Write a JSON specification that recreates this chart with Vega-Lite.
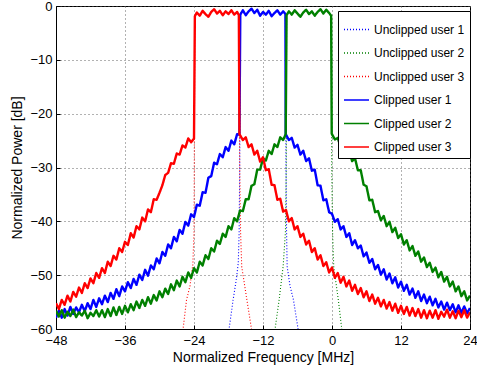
{
  "$schema": "https://vega.github.io/schema/vega-lite/v6.json",
  "width": 414,
  "height": 323,
  "autosize": "none",
  "padding": {"left": 56, "top": 6, "right": 7, "bottom": 38},
  "background": "white",
  "view": {"stroke": "black", "strokeWidth": 1},
  "config": {
    "font": "Liberation Sans",
    "axis": {
      "labelFont": "Liberation Sans", "labelFontSize": 13, "labelColor": "black",
      "titleFont": "Liberation Sans", "titleFontSize": 14, "titleFontWeight": "normal", "titleColor": "black",
      "domainColor": "black", "tickColor": "black", "tickSize": -4, "labelPadding": 8,
      "gridColor": "#555", "gridDash": [1, 3], "gridOpacity": 0.9, "gridWidth": 1,
      "labelFlush": false, "labelOverlap": false
    },
    "legend": {
      "labelFont": "Liberation Sans", "labelFontSize": 12, "labelColor": "black"
    }
  },
  "data": {"values": [
    {"s":"Unclipped user 1","x":-18.5,"y":-63},{"s":"Unclipped user 1","x":-17.9,"y":-60},{"s":"Unclipped user 1","x":-17.2,"y":-54.6},{"s":"Unclipped user 1","x":-16.6,"y":-50.5},{"s":"Unclipped user 1","x":-16.3,"y":-47.7},{"s":"Unclipped user 1","x":-16.15,"y":-42},{"s":"Unclipped user 1","x":-16.05,"y":-30},{"s":"Unclipped user 1","x":-15.95,"y":-1.6},
    {"s":"Unclipped user 1","x":-15.5,"y":-0.8},{"s":"Unclipped user 1","x":-15,"y":-1.7},{"s":"Unclipped user 1","x":-14.5,"y":-1.0},{"s":"Unclipped user 1","x":-14,"y":-0.5},{"s":"Unclipped user 1","x":-13.5,"y":-1.3},{"s":"Unclipped user 1","x":-13,"y":-0.7},{"s":"Unclipped user 1","x":-12.5,"y":-1.8},{"s":"Unclipped user 1","x":-12,"y":-1.1},{"s":"Unclipped user 1","x":-11.5,"y":-1.6},{"s":"Unclipped user 1","x":-11,"y":-0.9},{"s":"Unclipped user 1","x":-10.5,"y":-1.9},{"s":"Unclipped user 1","x":-10,"y":-1.3},{"s":"Unclipped user 1","x":-9.5,"y":-0.8},{"s":"Unclipped user 1","x":-9,"y":-1.6},{"s":"Unclipped user 1","x":-8.5,"y":-1.0},{"s":"Unclipped user 1","x":-8.1,"y":-1.5},
    {"s":"Unclipped user 1","x":-8.0,"y":-30},{"s":"Unclipped user 1","x":-7.9,"y":-42},{"s":"Unclipped user 1","x":-7.8,"y":-48.4},{"s":"Unclipped user 1","x":-7.3,"y":-52},{"s":"Unclipped user 1","x":-6.7,"y":-54.6},{"s":"Unclipped user 1","x":-5.9,"y":-60},{"s":"Unclipped user 1","x":-5.3,"y":-63},

    {"s":"Unclipped user 2","x":-10.6,"y":-63},{"s":"Unclipped user 2","x":-9.9,"y":-60},{"s":"Unclipped user 2","x":-9.2,"y":-54.6},{"s":"Unclipped user 2","x":-8.5,"y":-48.4},{"s":"Unclipped user 2","x":-8.1,"y":-42},{"s":"Unclipped user 2","x":-7.95,"y":-30},{"s":"Unclipped user 2","x":-7.9,"y":-1.7},
    {"s":"Unclipped user 2","x":-7.5,"y":-1.0},{"s":"Unclipped user 2","x":-7,"y":-1.6},{"s":"Unclipped user 2","x":-6.5,"y":-0.8},{"s":"Unclipped user 2","x":-6,"y":-1.4},{"s":"Unclipped user 2","x":-5.5,"y":-2.0},{"s":"Unclipped user 2","x":-5,"y":-1.2},{"s":"Unclipped user 2","x":-4.5,"y":-0.7},{"s":"Unclipped user 2","x":-4,"y":-1.5},{"s":"Unclipped user 2","x":-3.5,"y":-1.0},{"s":"Unclipped user 2","x":-3,"y":-1.8},{"s":"Unclipped user 2","x":-2.5,"y":-1.1},{"s":"Unclipped user 2","x":-2,"y":-0.6},{"s":"Unclipped user 2","x":-1.5,"y":-1.4},{"s":"Unclipped user 2","x":-1,"y":-0.7},{"s":"Unclipped user 2","x":-0.5,"y":-1.3},{"s":"Unclipped user 2","x":-0.15,"y":-1.8},
    {"s":"Unclipped user 2","x":-0.05,"y":-30},{"s":"Unclipped user 2","x":0.1,"y":-42},{"s":"Unclipped user 2","x":0.3,"y":-48.4},{"s":"Unclipped user 2","x":1.1,"y":-54.6},{"s":"Unclipped user 2","x":1.7,"y":-60},{"s":"Unclipped user 2","x":2.3,"y":-63},

    {"s":"Unclipped user 3","x":-26.6,"y":-63},{"s":"Unclipped user 3","x":-25.9,"y":-60},{"s":"Unclipped user 3","x":-25.3,"y":-54.6},{"s":"Unclipped user 3","x":-24.7,"y":-52},{"s":"Unclipped user 3","x":-24.2,"y":-48},{"s":"Unclipped user 3","x":-24.0,"y":-42},{"s":"Unclipped user 3","x":-23.95,"y":-30},{"s":"Unclipped user 3","x":-23.85,"y":-1.9},
    {"s":"Unclipped user 3","x":-23.5,"y":-1.2},{"s":"Unclipped user 3","x":-23,"y":-1.8},{"s":"Unclipped user 3","x":-22.5,"y":-0.9},{"s":"Unclipped user 3","x":-22,"y":-1.5},{"s":"Unclipped user 3","x":-21.5,"y":-2.0},{"s":"Unclipped user 3","x":-21,"y":-1.1},{"s":"Unclipped user 3","x":-20.5,"y":-0.6},{"s":"Unclipped user 3","x":-20,"y":-1.4},{"s":"Unclipped user 3","x":-19.5,"y":-0.9},{"s":"Unclipped user 3","x":-19,"y":-1.7},{"s":"Unclipped user 3","x":-18.5,"y":-1.0},{"s":"Unclipped user 3","x":-18,"y":-1.5},{"s":"Unclipped user 3","x":-17.5,"y":-0.8},{"s":"Unclipped user 3","x":-17,"y":-1.6},{"s":"Unclipped user 3","x":-16.5,"y":-1.1},{"s":"Unclipped user 3","x":-16.2,"y":-1.7},
    {"s":"Unclipped user 3","x":-16.05,"y":-30},{"s":"Unclipped user 3","x":-15.9,"y":-42},{"s":"Unclipped user 3","x":-15.7,"y":-48.4},{"s":"Unclipped user 3","x":-14.8,"y":-54.6},{"s":"Unclipped user 3","x":-14.0,"y":-60},{"s":"Unclipped user 3","x":-13.4,"y":-63},

    {"s":"Clipped user 1","x":-48,"y":-57.9},{"s":"Clipped user 1","x":-47.5,"y":-56.6},{"s":"Clipped user 1","x":-47,"y":-57.9},{"s":"Clipped user 1","x":-46.5,"y":-56.3},{"s":"Clipped user 1","x":-46,"y":-57.5},{"s":"Clipped user 1","x":-45.5,"y":-55.9},{"s":"Clipped user 1","x":-45,"y":-57.2},{"s":"Clipped user 1","x":-44.5,"y":-56.0},{"s":"Clipped user 1","x":-44,"y":-56.9},{"s":"Clipped user 1","x":-43.5,"y":-55.5},
    {"s":"Clipped user 1","x":-43,"y":-56.7},{"s":"Clipped user 1","x":-42.5,"y":-55.2},{"s":"Clipped user 1","x":-42,"y":-56.3},{"s":"Clipped user 1","x":-41.5,"y":-54.6},{"s":"Clipped user 1","x":-41,"y":-55.9},{"s":"Clipped user 1","x":-40.5,"y":-54.3},{"s":"Clipped user 1","x":-40,"y":-55.4},{"s":"Clipped user 1","x":-39.5,"y":-53.8},{"s":"Clipped user 1","x":-39,"y":-55.0},{"s":"Clipped user 1","x":-38.5,"y":-53.3},
    {"s":"Clipped user 1","x":-38,"y":-54.4},{"s":"Clipped user 1","x":-37.5,"y":-52.6},{"s":"Clipped user 1","x":-37,"y":-53.9},{"s":"Clipped user 1","x":-36.5,"y":-52.1},{"s":"Clipped user 1","x":-36,"y":-53.0},{"s":"Clipped user 1","x":-35.5,"y":-51.3},{"s":"Clipped user 1","x":-35,"y":-52.4},{"s":"Clipped user 1","x":-34.5,"y":-50.7},{"s":"Clipped user 1","x":-34,"y":-51.8},{"s":"Clipped user 1","x":-33.5,"y":-49.9},
    {"s":"Clipped user 1","x":-33,"y":-50.9},{"s":"Clipped user 1","x":-32.5,"y":-49.0},{"s":"Clipped user 1","x":-32,"y":-50.1},{"s":"Clipped user 1","x":-31.5,"y":-48.2},{"s":"Clipped user 1","x":-31,"y":-48.9},{"s":"Clipped user 1","x":-30.5,"y":-46.9},{"s":"Clipped user 1","x":-30,"y":-47.8},{"s":"Clipped user 1","x":-29.5,"y":-45.7},{"s":"Clipped user 1","x":-29,"y":-46.4},{"s":"Clipped user 1","x":-28.5,"y":-44.3},
    {"s":"Clipped user 1","x":-28,"y":-45.0},{"s":"Clipped user 1","x":-27.5,"y":-42.9},{"s":"Clipped user 1","x":-27,"y":-43.7},{"s":"Clipped user 1","x":-26.5,"y":-41.6},{"s":"Clipped user 1","x":-26,"y":-42.3},{"s":"Clipped user 1","x":-25.5,"y":-40.1},{"s":"Clipped user 1","x":-25,"y":-40.8},{"s":"Clipped user 1","x":-24.5,"y":-38.7},{"s":"Clipped user 1","x":-24,"y":-39.2},{"s":"Clipped user 1","x":-23.5,"y":-36.9},
    {"s":"Clipped user 1","x":-23,"y":-37.1},{"s":"Clipped user 1","x":-22.5,"y":-34.6},{"s":"Clipped user 1","x":-22,"y":-34.7},{"s":"Clipped user 1","x":-21.5,"y":-31.9},{"s":"Clipped user 1","x":-21,"y":-31.6},{"s":"Clipped user 1","x":-20.5,"y":-29.1},{"s":"Clipped user 1","x":-20,"y":-29.4},{"s":"Clipped user 1","x":-19.5,"y":-27.5},{"s":"Clipped user 1","x":-19,"y":-28.1},{"s":"Clipped user 1","x":-18.5,"y":-26.2},
    {"s":"Clipped user 1","x":-18,"y":-26.9},{"s":"Clipped user 1","x":-17.5,"y":-25.0},{"s":"Clipped user 1","x":-17,"y":-25.7},{"s":"Clipped user 1","x":-16.5,"y":-23.8},{"s":"Clipped user 1","x":-16.1,"y":-23.9},{"s":"Clipped user 1","x":-15.95,"y":-1.6},
    {"s":"Clipped user 1","x":-15.5,"y":-0.8},{"s":"Clipped user 1","x":-15,"y":-1.7},{"s":"Clipped user 1","x":-14.5,"y":-1.0},{"s":"Clipped user 1","x":-14,"y":-0.5},{"s":"Clipped user 1","x":-13.5,"y":-1.3},{"s":"Clipped user 1","x":-13,"y":-0.7},{"s":"Clipped user 1","x":-12.5,"y":-1.8},{"s":"Clipped user 1","x":-12,"y":-1.1},{"s":"Clipped user 1","x":-11.5,"y":-1.6},{"s":"Clipped user 1","x":-11,"y":-0.9},{"s":"Clipped user 1","x":-10.5,"y":-1.9},{"s":"Clipped user 1","x":-10,"y":-1.3},{"s":"Clipped user 1","x":-9.5,"y":-0.8},{"s":"Clipped user 1","x":-9,"y":-1.6},{"s":"Clipped user 1","x":-8.5,"y":-1.0},{"s":"Clipped user 1","x":-8.1,"y":-1.5},
    {"s":"Clipped user 1","x":-8.05,"y":-23.8},{"s":"Clipped user 1","x":-7.5,"y":-24.9},{"s":"Clipped user 1","x":-7,"y":-24.5},{"s":"Clipped user 1","x":-6.5,"y":-26.3},{"s":"Clipped user 1","x":-6,"y":-25.8},{"s":"Clipped user 1","x":-5.5,"y":-27.6},{"s":"Clipped user 1","x":-5,"y":-26.9},{"s":"Clipped user 1","x":-4.5,"y":-28.8},{"s":"Clipped user 1","x":-4,"y":-28.3},{"s":"Clipped user 1","x":-3.5,"y":-30.6},
    {"s":"Clipped user 1","x":-3,"y":-30.4},{"s":"Clipped user 1","x":-2.5,"y":-33.3},{"s":"Clipped user 1","x":-2,"y":-33.4},{"s":"Clipped user 1","x":-1.5,"y":-36.1},{"s":"Clipped user 1","x":-1,"y":-35.9},{"s":"Clipped user 1","x":-0.5,"y":-38.3},{"s":"Clipped user 1","x":0,"y":-38.6},{"s":"Clipped user 1","x":0.5,"y":-40.1},{"s":"Clipped user 1","x":1,"y":-39.6},{"s":"Clipped user 1","x":1.5,"y":-41.5},
    {"s":"Clipped user 1","x":2,"y":-40.9},{"s":"Clipped user 1","x":2.5,"y":-42.9},{"s":"Clipped user 1","x":3,"y":-42.2},{"s":"Clipped user 1","x":3.5,"y":-44.4},{"s":"Clipped user 1","x":4,"y":-43.5},{"s":"Clipped user 1","x":4.5,"y":-45.0},{"s":"Clipped user 1","x":5,"y":-44.5},{"s":"Clipped user 1","x":5.5,"y":-46.5},{"s":"Clipped user 1","x":6,"y":-45.8},{"s":"Clipped user 1","x":6.5,"y":-47.7},
    {"s":"Clipped user 1","x":7,"y":-47.0},{"s":"Clipped user 1","x":7.5,"y":-48.9},{"s":"Clipped user 1","x":8,"y":-48.1},{"s":"Clipped user 1","x":8.5,"y":-49.9},{"s":"Clipped user 1","x":9,"y":-48.9},{"s":"Clipped user 1","x":9.5,"y":-50.8},{"s":"Clipped user 1","x":10,"y":-49.7},{"s":"Clipped user 1","x":10.5,"y":-51.5},{"s":"Clipped user 1","x":11,"y":-50.4},{"s":"Clipped user 1","x":11.5,"y":-52.3},
    {"s":"Clipped user 1","x":12,"y":-51.2},{"s":"Clipped user 1","x":12.5,"y":-52.9},{"s":"Clipped user 1","x":13,"y":-51.8},{"s":"Clipped user 1","x":13.5,"y":-53.6},{"s":"Clipped user 1","x":14,"y":-52.5},{"s":"Clipped user 1","x":14.5,"y":-54.2},{"s":"Clipped user 1","x":15,"y":-53.0},{"s":"Clipped user 1","x":15.5,"y":-54.8},{"s":"Clipped user 1","x":16,"y":-53.6},{"s":"Clipped user 1","x":16.5,"y":-55.2},
    {"s":"Clipped user 1","x":17,"y":-54.0},{"s":"Clipped user 1","x":17.5,"y":-55.6},{"s":"Clipped user 1","x":18,"y":-54.4},{"s":"Clipped user 1","x":18.5,"y":-56.0},{"s":"Clipped user 1","x":19,"y":-54.9},{"s":"Clipped user 1","x":19.5,"y":-56.4},{"s":"Clipped user 1","x":20,"y":-55.1},{"s":"Clipped user 1","x":20.5,"y":-56.5},{"s":"Clipped user 1","x":21,"y":-55.4},{"s":"Clipped user 1","x":21.5,"y":-56.9},
    {"s":"Clipped user 1","x":22,"y":-55.6},{"s":"Clipped user 1","x":22.5,"y":-57.0},{"s":"Clipped user 1","x":23,"y":-55.8},{"s":"Clipped user 1","x":23.5,"y":-57.1},{"s":"Clipped user 1","x":24,"y":-56.1},

    {"s":"Clipped user 2","x":-48,"y":-56.6},{"s":"Clipped user 2","x":-47.5,"y":-57.7},{"s":"Clipped user 2","x":-47,"y":-56.5},{"s":"Clipped user 2","x":-46.5,"y":-57.9},{"s":"Clipped user 2","x":-46,"y":-56.8},{"s":"Clipped user 2","x":-45.5,"y":-57.6},{"s":"Clipped user 2","x":-45,"y":-56.4},{"s":"Clipped user 2","x":-44.5,"y":-57.8},{"s":"Clipped user 2","x":-44,"y":-56.9},{"s":"Clipped user 2","x":-43.5,"y":-57.5},
    {"s":"Clipped user 2","x":-43,"y":-56.6},{"s":"Clipped user 2","x":-42.5,"y":-58.0},{"s":"Clipped user 2","x":-42,"y":-57.0},{"s":"Clipped user 2","x":-41.5,"y":-57.6},{"s":"Clipped user 2","x":-41,"y":-56.5},{"s":"Clipped user 2","x":-40.5,"y":-57.7},{"s":"Clipped user 2","x":-40,"y":-56.5},{"s":"Clipped user 2","x":-39.5,"y":-57.8},{"s":"Clipped user 2","x":-39,"y":-56.3},{"s":"Clipped user 2","x":-38.5,"y":-57.6},
    {"s":"Clipped user 2","x":-38,"y":-56.0},{"s":"Clipped user 2","x":-37.5,"y":-57.4},{"s":"Clipped user 2","x":-37,"y":-55.9},{"s":"Clipped user 2","x":-36.5,"y":-57.2},{"s":"Clipped user 2","x":-36,"y":-55.7},{"s":"Clipped user 2","x":-35.5,"y":-56.9},{"s":"Clipped user 2","x":-35,"y":-55.4},{"s":"Clipped user 2","x":-34.5,"y":-56.5},{"s":"Clipped user 2","x":-34,"y":-54.9},{"s":"Clipped user 2","x":-33.5,"y":-56.1},
    {"s":"Clipped user 2","x":-33,"y":-54.6},{"s":"Clipped user 2","x":-32.5,"y":-55.7},{"s":"Clipped user 2","x":-32,"y":-54.1},{"s":"Clipped user 2","x":-31.5,"y":-55.3},{"s":"Clipped user 2","x":-31,"y":-53.7},{"s":"Clipped user 2","x":-30.5,"y":-54.7},{"s":"Clipped user 2","x":-30,"y":-53.0},{"s":"Clipped user 2","x":-29.5,"y":-54.1},{"s":"Clipped user 2","x":-29,"y":-52.5},{"s":"Clipped user 2","x":-28.5,"y":-53.5},
    {"s":"Clipped user 2","x":-28,"y":-51.7},{"s":"Clipped user 2","x":-27.5,"y":-52.8},{"s":"Clipped user 2","x":-27,"y":-51.0},{"s":"Clipped user 2","x":-26.5,"y":-52.1},{"s":"Clipped user 2","x":-26,"y":-50.3},{"s":"Clipped user 2","x":-25.5,"y":-51.3},{"s":"Clipped user 2","x":-25,"y":-49.5},{"s":"Clipped user 2","x":-24.5,"y":-50.5},{"s":"Clipped user 2","x":-24,"y":-48.7},{"s":"Clipped user 2","x":-23.5,"y":-49.5},
    {"s":"Clipped user 2","x":-23,"y":-47.5},{"s":"Clipped user 2","x":-22.5,"y":-48.2},{"s":"Clipped user 2","x":-22,"y":-46.3},{"s":"Clipped user 2","x":-21.5,"y":-47.0},{"s":"Clipped user 2","x":-21,"y":-45.0},{"s":"Clipped user 2","x":-20.5,"y":-45.6},{"s":"Clipped user 2","x":-20,"y":-43.6},{"s":"Clipped user 2","x":-19.5,"y":-44.2},{"s":"Clipped user 2","x":-19,"y":-42.3},{"s":"Clipped user 2","x":-18.5,"y":-42.9},
    {"s":"Clipped user 2","x":-18,"y":-40.9},{"s":"Clipped user 2","x":-17.5,"y":-41.5},{"s":"Clipped user 2","x":-17,"y":-39.4},{"s":"Clipped user 2","x":-16.5,"y":-40.0},{"s":"Clipped user 2","x":-16,"y":-38.0},{"s":"Clipped user 2","x":-15.5,"y":-38.1},{"s":"Clipped user 2","x":-15,"y":-35.9},{"s":"Clipped user 2","x":-14.5,"y":-35.9},{"s":"Clipped user 2","x":-14,"y":-33.4},{"s":"Clipped user 2","x":-13.5,"y":-33.1},
    {"s":"Clipped user 2","x":-13,"y":-30.4},{"s":"Clipped user 2","x":-12.5,"y":-30.4},{"s":"Clipped user 2","x":-12,"y":-28.3},{"s":"Clipped user 2","x":-11.5,"y":-28.7},{"s":"Clipped user 2","x":-11,"y":-26.9},{"s":"Clipped user 2","x":-10.5,"y":-27.5},{"s":"Clipped user 2","x":-10,"y":-25.7},{"s":"Clipped user 2","x":-9.5,"y":-26.2},{"s":"Clipped user 2","x":-9,"y":-24.4},{"s":"Clipped user 2","x":-8.5,"y":-24.9},
    {"s":"Clipped user 2","x":-8.05,"y":-23.8},{"s":"Clipped user 2","x":-7.9,"y":-1.7},
    {"s":"Clipped user 2","x":-7.5,"y":-1.0},{"s":"Clipped user 2","x":-7,"y":-1.6},{"s":"Clipped user 2","x":-6.5,"y":-0.8},{"s":"Clipped user 2","x":-6,"y":-1.4},{"s":"Clipped user 2","x":-5.5,"y":-2.0},{"s":"Clipped user 2","x":-5,"y":-1.2},{"s":"Clipped user 2","x":-4.5,"y":-0.7},{"s":"Clipped user 2","x":-4,"y":-1.5},{"s":"Clipped user 2","x":-3.5,"y":-1.0},{"s":"Clipped user 2","x":-3,"y":-1.8},{"s":"Clipped user 2","x":-2.5,"y":-1.1},{"s":"Clipped user 2","x":-2,"y":-0.6},{"s":"Clipped user 2","x":-1.5,"y":-1.4},{"s":"Clipped user 2","x":-1,"y":-0.7},{"s":"Clipped user 2","x":-0.5,"y":-1.3},{"s":"Clipped user 2","x":-0.15,"y":-1.8},
    {"s":"Clipped user 2","x":-0.05,"y":-23.7},{"s":"Clipped user 2","x":0.5,"y":-24.8},{"s":"Clipped user 2","x":1,"y":-24.5},{"s":"Clipped user 2","x":1.5,"y":-26.2},{"s":"Clipped user 2","x":2,"y":-25.8},{"s":"Clipped user 2","x":2.5,"y":-27.5},{"s":"Clipped user 2","x":3,"y":-27.0},{"s":"Clipped user 2","x":3.5,"y":-28.8},{"s":"Clipped user 2","x":4,"y":-28.3},{"s":"Clipped user 2","x":4.5,"y":-30.5},
    {"s":"Clipped user 2","x":5,"y":-30.5},{"s":"Clipped user 2","x":5.5,"y":-33.2},{"s":"Clipped user 2","x":6,"y":-33.5},{"s":"Clipped user 2","x":6.5,"y":-36.1},{"s":"Clipped user 2","x":7,"y":-36.0},{"s":"Clipped user 2","x":7.5,"y":-38.3},{"s":"Clipped user 2","x":8,"y":-38.1},{"s":"Clipped user 2","x":8.5,"y":-39.8},{"s":"Clipped user 2","x":9,"y":-39.0},{"s":"Clipped user 2","x":9.5,"y":-40.9},
    {"s":"Clipped user 2","x":10,"y":-40.1},{"s":"Clipped user 2","x":10.5,"y":-42.0},{"s":"Clipped user 2","x":11,"y":-41.2},{"s":"Clipped user 2","x":11.5,"y":-43.1},{"s":"Clipped user 2","x":12,"y":-42.4},{"s":"Clipped user 2","x":12.5,"y":-44.3},{"s":"Clipped user 2","x":13,"y":-43.5},{"s":"Clipped user 2","x":13.5,"y":-45.4},{"s":"Clipped user 2","x":14,"y":-44.6},{"s":"Clipped user 2","x":14.5,"y":-46.4},
    {"s":"Clipped user 2","x":15,"y":-45.6},{"s":"Clipped user 2","x":15.5,"y":-47.5},{"s":"Clipped user 2","x":16,"y":-46.7},{"s":"Clipped user 2","x":16.5,"y":-48.5},{"s":"Clipped user 2","x":17,"y":-47.7},{"s":"Clipped user 2","x":17.5,"y":-49.4},{"s":"Clipped user 2","x":18,"y":-48.6},{"s":"Clipped user 2","x":18.5,"y":-50.4},{"s":"Clipped user 2","x":19,"y":-49.4},{"s":"Clipped user 2","x":19.5,"y":-51.2},
    {"s":"Clipped user 2","x":20,"y":-50.3},{"s":"Clipped user 2","x":20.5,"y":-52.1},{"s":"Clipped user 2","x":21,"y":-51.2},{"s":"Clipped user 2","x":21.5,"y":-53.0},{"s":"Clipped user 2","x":22,"y":-52.1},{"s":"Clipped user 2","x":22.5,"y":-53.9},{"s":"Clipped user 2","x":23,"y":-53.0},{"s":"Clipped user 2","x":23.5,"y":-54.7},{"s":"Clipped user 2","x":24,"y":-53.8},

    {"s":"Clipped user 3","x":-48,"y":-55.2},{"s":"Clipped user 3","x":-47.5,"y":-56.3},{"s":"Clipped user 3","x":-47,"y":-54.6},{"s":"Clipped user 3","x":-46.5,"y":-55.5},{"s":"Clipped user 3","x":-46,"y":-53.8},{"s":"Clipped user 3","x":-45.5,"y":-54.9},{"s":"Clipped user 3","x":-45,"y":-53.1},{"s":"Clipped user 3","x":-44.5,"y":-54.0},{"s":"Clipped user 3","x":-44,"y":-52.3},{"s":"Clipped user 3","x":-43.5,"y":-53.3},
    {"s":"Clipped user 3","x":-43,"y":-51.5},{"s":"Clipped user 3","x":-42.5,"y":-52.4},{"s":"Clipped user 3","x":-42,"y":-50.6},{"s":"Clipped user 3","x":-41.5,"y":-51.5},{"s":"Clipped user 3","x":-41,"y":-49.6},{"s":"Clipped user 3","x":-40.5,"y":-50.5},{"s":"Clipped user 3","x":-40,"y":-48.7},{"s":"Clipped user 3","x":-39.5,"y":-49.6},{"s":"Clipped user 3","x":-39,"y":-47.5},{"s":"Clipped user 3","x":-38.5,"y":-48.3},
    {"s":"Clipped user 3","x":-38,"y":-46.4},{"s":"Clipped user 3","x":-37.5,"y":-47.1},{"s":"Clipped user 3","x":-37,"y":-45.0},{"s":"Clipped user 3","x":-36.5,"y":-45.7},{"s":"Clipped user 3","x":-36,"y":-43.8},{"s":"Clipped user 3","x":-35.5,"y":-44.4},{"s":"Clipped user 3","x":-35,"y":-42.2},{"s":"Clipped user 3","x":-34.5,"y":-43.0},{"s":"Clipped user 3","x":-34,"y":-40.9},{"s":"Clipped user 3","x":-33.5,"y":-41.5},
    {"s":"Clipped user 3","x":-33,"y":-39.3},{"s":"Clipped user 3","x":-32.5,"y":-40.0},{"s":"Clipped user 3","x":-32,"y":-37.8},{"s":"Clipped user 3","x":-31.5,"y":-38.3},{"s":"Clipped user 3","x":-31,"y":-35.9},{"s":"Clipped user 3","x":-30.5,"y":-36.0},{"s":"Clipped user 3","x":-30,"y":-34.7},{"s":"Clipped user 3","x":-29.5,"y":-33.3},{"s":"Clipped user 3","x":-29,"y":-31.4},{"s":"Clipped user 3","x":-28.5,"y":-31.0},
    {"s":"Clipped user 3","x":-28,"y":-29.2},{"s":"Clipped user 3","x":-27.5,"y":-29.3},{"s":"Clipped user 3","x":-27,"y":-27.4},{"s":"Clipped user 3","x":-26.5,"y":-27.6},{"s":"Clipped user 3","x":-26,"y":-25.9},{"s":"Clipped user 3","x":-25.5,"y":-26.3},{"s":"Clipped user 3","x":-25,"y":-24.6},{"s":"Clipped user 3","x":-24.5,"y":-25.3},{"s":"Clipped user 3","x":-24,"y":-24.6},{"s":"Clipped user 3","x":-23.85,"y":-1.9},
    {"s":"Clipped user 3","x":-23.5,"y":-1.2},{"s":"Clipped user 3","x":-23,"y":-1.8},{"s":"Clipped user 3","x":-22.5,"y":-0.9},{"s":"Clipped user 3","x":-22,"y":-1.5},{"s":"Clipped user 3","x":-21.5,"y":-2.0},{"s":"Clipped user 3","x":-21,"y":-1.1},{"s":"Clipped user 3","x":-20.5,"y":-0.6},{"s":"Clipped user 3","x":-20,"y":-1.4},{"s":"Clipped user 3","x":-19.5,"y":-0.9},{"s":"Clipped user 3","x":-19,"y":-1.7},{"s":"Clipped user 3","x":-18.5,"y":-1.0},{"s":"Clipped user 3","x":-18,"y":-1.5},{"s":"Clipped user 3","x":-17.5,"y":-0.8},{"s":"Clipped user 3","x":-17,"y":-1.6},{"s":"Clipped user 3","x":-16.5,"y":-1.1},{"s":"Clipped user 3","x":-16.2,"y":-1.7},
    {"s":"Clipped user 3","x":-16.1,"y":-23.8},{"s":"Clipped user 3","x":-15.5,"y":-24.9},{"s":"Clipped user 3","x":-15,"y":-24.4},{"s":"Clipped user 3","x":-14.5,"y":-26.2},{"s":"Clipped user 3","x":-14,"y":-25.7},{"s":"Clipped user 3","x":-13.5,"y":-27.6},{"s":"Clipped user 3","x":-13,"y":-26.9},{"s":"Clipped user 3","x":-12.5,"y":-28.9},{"s":"Clipped user 3","x":-12,"y":-28.1},{"s":"Clipped user 3","x":-11.5,"y":-30.5},
    {"s":"Clipped user 3","x":-11,"y":-30.3},{"s":"Clipped user 3","x":-10.5,"y":-33.2},{"s":"Clipped user 3","x":-10,"y":-33.3},{"s":"Clipped user 3","x":-9.5,"y":-36.0},{"s":"Clipped user 3","x":-9,"y":-35.8},{"s":"Clipped user 3","x":-8.5,"y":-38.2},{"s":"Clipped user 3","x":-8,"y":-37.9},{"s":"Clipped user 3","x":-7.5,"y":-40.0},{"s":"Clipped user 3","x":-7,"y":-39.4},{"s":"Clipped user 3","x":-6.5,"y":-41.5},
    {"s":"Clipped user 3","x":-6,"y":-40.9},{"s":"Clipped user 3","x":-5.5,"y":-42.9},{"s":"Clipped user 3","x":-5,"y":-42.3},{"s":"Clipped user 3","x":-4.5,"y":-44.3},{"s":"Clipped user 3","x":-4,"y":-43.6},{"s":"Clipped user 3","x":-3.5,"y":-45.7},{"s":"Clipped user 3","x":-3,"y":-45.0},{"s":"Clipped user 3","x":-2.5,"y":-47.1},{"s":"Clipped user 3","x":-2,"y":-46.3},{"s":"Clipped user 3","x":-1.5,"y":-48.3},
    {"s":"Clipped user 3","x":-1,"y":-47.6},{"s":"Clipped user 3","x":-0.5,"y":-49.5},{"s":"Clipped user 3","x":0,"y":-48.6},{"s":"Clipped user 3","x":0.5,"y":-50.5},{"s":"Clipped user 3","x":1,"y":-49.6},{"s":"Clipped user 3","x":1.5,"y":-51.4},{"s":"Clipped user 3","x":2,"y":-50.3},{"s":"Clipped user 3","x":2.5,"y":-52.1},{"s":"Clipped user 3","x":3,"y":-51.0},{"s":"Clipped user 3","x":3.5,"y":-52.9},
    {"s":"Clipped user 3","x":4,"y":-51.8},{"s":"Clipped user 3","x":4.5,"y":-53.5},{"s":"Clipped user 3","x":5,"y":-52.4},{"s":"Clipped user 3","x":5.5,"y":-54.1},{"s":"Clipped user 3","x":6,"y":-53.0},{"s":"Clipped user 3","x":6.5,"y":-54.8},{"s":"Clipped user 3","x":7,"y":-53.6},{"s":"Clipped user 3","x":7.5,"y":-55.3},{"s":"Clipped user 3","x":8,"y":-54.2},{"s":"Clipped user 3","x":8.5,"y":-55.8},
    {"s":"Clipped user 3","x":9,"y":-54.6},{"s":"Clipped user 3","x":9.5,"y":-56.2},{"s":"Clipped user 3","x":10,"y":-55.0},{"s":"Clipped user 3","x":10.5,"y":-56.6},{"s":"Clipped user 3","x":11,"y":-55.3},{"s":"Clipped user 3","x":11.5,"y":-57.0},{"s":"Clipped user 3","x":12,"y":-55.7},{"s":"Clipped user 3","x":12.5,"y":-57.2},{"s":"Clipped user 3","x":13,"y":-55.9},{"s":"Clipped user 3","x":13.5,"y":-57.5},
    {"s":"Clipped user 3","x":14,"y":-56.1},{"s":"Clipped user 3","x":14.5,"y":-57.6},{"s":"Clipped user 3","x":15,"y":-56.3},{"s":"Clipped user 3","x":15.5,"y":-57.9},{"s":"Clipped user 3","x":16,"y":-56.5},{"s":"Clipped user 3","x":16.5,"y":-58.0},{"s":"Clipped user 3","x":17,"y":-56.6},{"s":"Clipped user 3","x":17.5,"y":-57.9},{"s":"Clipped user 3","x":18,"y":-56.5},{"s":"Clipped user 3","x":18.5,"y":-58.1},
    {"s":"Clipped user 3","x":19,"y":-56.8},{"s":"Clipped user 3","x":19.5,"y":-57.7},{"s":"Clipped user 3","x":20,"y":-56.4},{"s":"Clipped user 3","x":20.5,"y":-57.9},{"s":"Clipped user 3","x":21,"y":-56.7},{"s":"Clipped user 3","x":21.5,"y":-58.0},{"s":"Clipped user 3","x":22,"y":-56.6},{"s":"Clipped user 3","x":22.5,"y":-57.8},{"s":"Clipped user 3","x":23,"y":-56.5},{"s":"Clipped user 3","x":23.5,"y":-57.9},{"s":"Clipped user 3","x":24,"y":-56.9}
  ]},
  "encoding": {
    "x": {
      "field": "x", "type": "quantitative",
      "scale": {"domain": [-48, 24], "nice": false, "zero": false},
      "axis": {"title": "Normalized Frequency [MHz]", "values": [-48, -36, -24, -12, 0, 12, 24], "titlePadding": 3, "labelPadding": 9}
    },
    "y": {
      "field": "y", "type": "quantitative",
      "scale": {"domain": [-60, 0], "nice": false, "zero": false},
      "axis": {"title": "Normalized Power [dB]", "values": [-60, -50, -40, -30, -20, -10, 0], "titlePadding": 5}
    },
    "color": {
      "field": "s", "type": "nominal",
      "scale": {
        "domain": ["Unclipped user 1", "Unclipped user 2", "Unclipped user 3", "Clipped user 1", "Clipped user 2", "Clipped user 3"],
        "range": ["#0000ff", "#008000", "#ff0000", "#0000ff", "#008000", "#ff0000"]
      },
      "legend": {
        "title": null, "orient": "none", "legendX": 282, "legendY": 5,
        "strokeColor": "black", "fillColor": "white", "padding": 5, "cornerRadius": 0,
        "symbolType": "stroke", "symbolSize": 625, "rowPadding": 3.5, "labelOffset": 4,
        "labelFontSize": 12, "symbolStrokeWidth": 1.6
      }
    },
    "strokeDash": {
      "field": "s", "type": "nominal",
      "scale": {
        "domain": ["Unclipped user 1", "Unclipped user 2", "Unclipped user 3", "Clipped user 1", "Clipped user 2", "Clipped user 3"],
        "range": [[1, 2], [1, 2], [1, 2], [1, 0], [1, 0], [1, 0]]
      }
    }
  },
  "layer": [
    {
      "transform": [{"filter": "indexof(datum.s, 'Unclipped') == 0"}],
      "mark": {"type": "line", "clip": true, "strokeWidth": 1.1}
    },
    {
      "transform": [{"filter": "indexof(datum.s, 'Unclipped') != 0"}],
      "mark": {"type": "line", "clip": true, "strokeWidth": 2.4, "strokeJoin": "round"}
    }
  ]
}
